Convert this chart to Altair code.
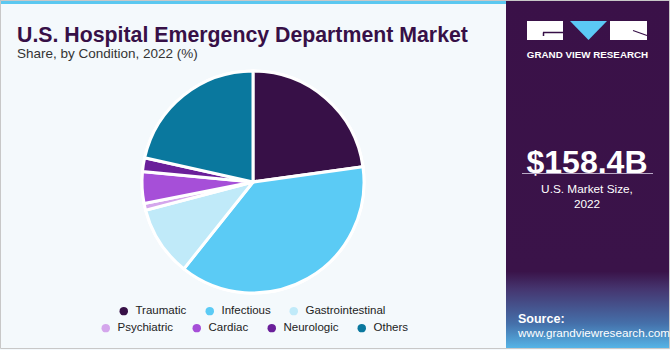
import altair as alt
import pandas as pd

# ---------------- data ----------------
categories = ["Traumatic", "Infectious", "Gastrointestinal", "Psychiatric",
              "Cardiac", "Neurologic", "Others"]
shares = [22.8, 37.9, 10.2, 1.0, 4.6, 2.0, 21.5]
colors = ["#371047", "#5BCBF5", "#C0EAF9", "#D4A6EC", "#A64FD8", "#6A1F9A", "#0A789E"]

row1 = categories[:3]
row2 = categories[3:]

title_text = "U.S. Hospital Emergency Department Market"
subtitle_text = "Share, by Condition, 2022 (%)"
market_value = "$158.4B"
market_label = ["U.S. Market Size,", "2022"]
brand = "GRAND VIEW RESEARCH"
source_label = "Source:"
source_url = "www.grandviewresearch.com"

df = pd.DataFrame({"condition": categories, "share": shares,
                   "order": list(range(len(categories)))})
one = pd.DataFrame({"k": [0]})

W, H = 670, 350
CX, CY, R = 253, 182, 111
FONT = "Liberation Sans"
DARK = "#371047"

legend_common = dict(orient="none", direction="horizontal", title=None,
                     symbolType="circle", symbolSize=72, symbolStrokeWidth=0,
                     labelFontSize=11.5, labelFont=FONT, labelColor="#222222",
                     columnPadding=17, labelOffset=6, padding=0)

base = alt.Chart(df)

pie_a = base.mark_arc(outerRadius=R, stroke="white", strokeWidth=3).encode(
    theta=alt.Theta("share:Q", stack=True),
    order=alt.Order("order:Q"),
    color=alt.Color("condition:N",
                    scale=alt.Scale(domain=categories, range=colors),
                    legend=alt.Legend(values=row1, legendX=118, legendY=305,
                                      **legend_common)),
    x=alt.value(CX), y=alt.value(CY),
)

# overlay drawing the same pie, used only for a second legend row
dom_b = row2 + row1
rng_b = colors[3:] + colors[:3]
pie_b = base.mark_arc(outerRadius=R, stroke="white", strokeWidth=3).encode(
    theta=alt.Theta("share:Q", stack=True),
    order=alt.Order("order:Q"),
    fill=alt.Fill("condition:N",
                  scale=alt.Scale(domain=dom_b, range=rng_b),
                  legend=alt.Legend(values=row2, legendX=100, legendY=322,
                                    **legend_common)),
    x=alt.value(CX), y=alt.value(CY),
)

deco = alt.Chart(one)

top_bar = deco.mark_rect(color="#5BC8F0").encode(
    x=alt.value(0), x2=alt.value(506), y=alt.value(0), y2=alt.value(4))

panel = deco.mark_rect(
    fill=alt.Gradient(gradient="linear",
                      stops=[alt.GradientStop(color="#3A1148", offset=0),
                             alt.GradientStop(color="#3A1349", offset=0.78),
                             alt.GradientStop(color="#45356F", offset=0.83),
                             alt.GradientStop(color="#4570AA", offset=0.93),
                             alt.GradientStop(color="#55B4E6", offset=1)],
                      x1=0, x2=0, y1=0, y2=1)
).encode(x=alt.value(506), x2=alt.value(669), y=alt.value(0), y2=alt.value(348))

border = deco.mark_rect(fill="transparent", stroke="#C8C8C8", strokeWidth=1).encode(
    x=alt.value(0.5), x2=alt.value(669.5), y=alt.value(0.5), y2=alt.value(348.5))

logo_l = deco.mark_rect(color="white").encode(
    x=alt.value(527), x2=alt.value(563), y=alt.value(21), y2=alt.value(40))
logo_r = deco.mark_rect(color="white").encode(
    x=alt.value(610), x2=alt.value(647), y=alt.value(21), y2=alt.value(40))
logo_t = deco.mark_point(shape="M-1,-0.514 L1,-0.514 L0,0.514 Z", filled=True,
                         fill="#5BC8F5", strokeWidth=0, opacity=1, size=1369).encode(
    x=alt.value(588.5), y=alt.value(30.5))
logo_l1 = deco.mark_rule(color=DARK, strokeWidth=1.5).encode(
    x=alt.value(543), x2=alt.value(563), y=alt.value(32.5))
logo_l2 = deco.mark_rule(color=DARK, strokeWidth=1.5).encode(
    x=alt.value(543.5), y=alt.value(32.5), y2=alt.value(36))
logo_r1 = deco.mark_rule(color=DARK, strokeWidth=1.2).encode(
    x=alt.value(633), x2=alt.value(647), y=alt.value(30.5), y2=alt.value(35.5))

brand_t = deco.mark_text(text=brand, font=FONT, fontSize=9.8, fontWeight="bold",
                         color="white", align="center").encode(
    x=alt.value(587.5), y=alt.value(54.5))

title = deco.mark_text(text=title_text, font=FONT, fontSize=21.3, fontWeight="bold",
                       color=DARK, align="left").encode(x=alt.value(17), y=alt.value(36))
subtitle = deco.mark_text(text=subtitle_text, font=FONT, fontSize=13.5,
                          color="#333333", align="left").encode(x=alt.value(17), y=alt.value(54))

value_t = deco.mark_text(text=market_value, font=FONT, fontSize=32, fontWeight="bold",
                         color="white", align="center").encode(x=alt.value(587), y=alt.value(163))
sep = deco.mark_rule(color="#B9A9C6", strokeWidth=1).encode(
    x=alt.value(522), x2=alt.value(653), y=alt.value(173.5))
label_t = deco.mark_text(text=market_label, font=FONT, fontSize=11.8, color="white",
                         align="center", lineHeight=15).encode(x=alt.value(587), y=alt.value(189))

src1 = deco.mark_text(text=source_label, font=FONT, fontSize=12.5, fontWeight="bold",
                      color="white", align="left").encode(x=alt.value(518), y=alt.value(318.5))
src2 = deco.mark_text(text=source_url, font=FONT, fontSize=11.7,
                      color="white", align="left").encode(x=alt.value(518), y=alt.value(333))

chart = alt.layer(
    top_bar, panel, border, pie_a, pie_b,
    logo_l, logo_r, logo_t, logo_l1, logo_l2, logo_r1, brand_t,
    title, subtitle, value_t, sep, label_t, src1, src2,
).resolve_scale(color="independent", fill="independent").properties(
    width=W, height=H, padding=0, autosize="none", background="#F4F9FC"
).configure_view(stroke=None)

chart.save("out.html", embed_options={"renderer": "svg", "actions": False})
